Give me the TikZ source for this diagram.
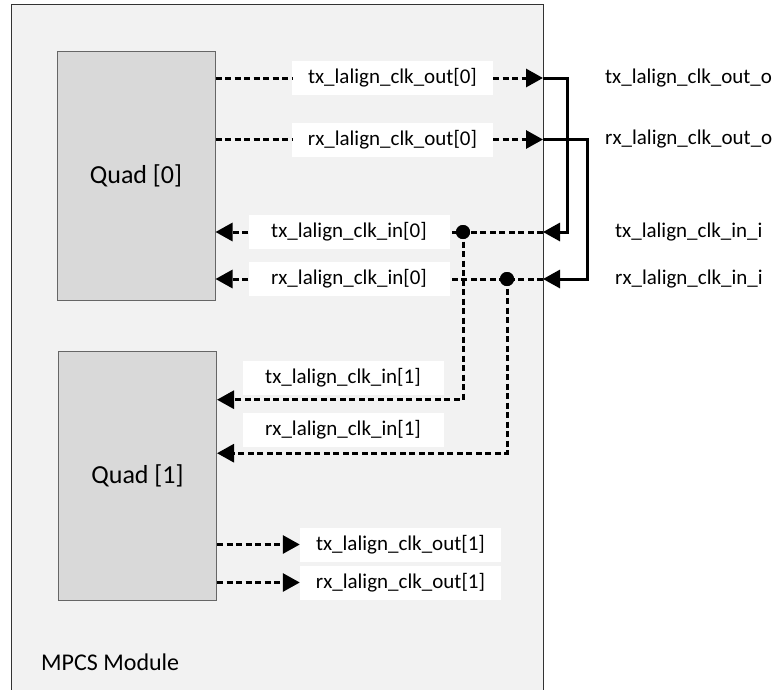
\documentclass[tikz,border=0pt]{standalone}
\usepackage{fontspec}
\setmainfont{Carlito}
\usetikzlibrary{arrows.meta,calc}

\tikzset{
  quadbox/.style = {draw = gray!80!black, fill = black!15, line width = 1pt,
                    minimum width = 158pt, minimum height = 249pt,
                    font = \fontsize{26}{30}\selectfont},
  sigbox/.style = {fill = white, inner sep = 0pt, minimum width = 201pt,
                   minimum height = 34pt, font = \fontsize{21}{24}\selectfont},
  extlabel/.style = {anchor = west, inner sep = 0pt, font = \fontsize{21}{24}\selectfont},
  sig/.style = {line width = 3pt, dash pattern = on 6pt off 3.5pt},
  wire/.style = {line width = 3pt},
  tip/.style = {-{Triangle[length = 17pt, width = 18pt]}},
  joint/.style = {circle, fill = black, inner sep = 0pt, minimum size = 14pt}
}

\begin{document}
\begin{tikzpicture}[x = 1pt, y = -1pt]
\useasboundingbox (0,0) rectangle (777,689);
\fill[white] (0,0) rectangle (777,689);
\draw[fill = black!5, draw = black!80, line width = 1pt] (11,4) rectangle (543,720);
\node[anchor = west, inner sep = 0pt, font = \fontsize{24}{28}\selectfont] (mpcs) at (41,662) {MPCS Module};

% quads
\node[quadbox] (quad0) at (136,176) {Quad [0]};
\node[quadbox] (quad1) at (137.5,476) {Quad [1]};

% signal boxes
\node[sigbox] (txout0) at (392.5,78) {tx\_lalign\_clk\_out[0]};
\node[sigbox] (rxout0) at (392.5,139.5) {rx\_lalign\_clk\_out[0]};
\node[sigbox] (txin0) at (349,232) {tx\_lalign\_clk\_in[0]};
\node[sigbox] (rxin0) at (349,279) {rx\_lalign\_clk\_in[0]};
\node[sigbox] (txin1) at (343,377.5) {tx\_lalign\_clk\_in[1]};
\node[sigbox] (rxin1) at (343,429.5) {rx\_lalign\_clk\_in[1]};
\node[sigbox] (txout1) at (400.5,544.5) {tx\_lalign\_clk\_out[1]};
\node[sigbox] (rxout1) at (400.5,582.5) {rx\_lalign\_clk\_out[1]};

% ports on the module edge
\coordinate (txo) at (543,78);
\coordinate (rxo) at (543,139.5);
\coordinate (txi) at (543,232);
\coordinate (rxi) at (543,279);
\coordinate (txloop) at (567,0);
\coordinate (rxloop) at (587,0);

\node[extlabel] (txoname) at (605,78) {tx\_lalign\_clk\_out\_o};
\node[extlabel] (rxoname) at (605,139.5) {rx\_lalign\_clk\_out\_o};
\node[extlabel] (txiname) at (615,232) {tx\_lalign\_clk\_in\_i};
\node[extlabel] (rxiname) at (615,279) {rx\_lalign\_clk\_in\_i};

\node[joint] (txdot) at (463,232) {};
\node[joint] (rxdot) at (507,279) {};

% quad 0 outputs
\draw[sig] (quad0.east |- txout0) -- (txout0);
\draw[sig, tip] (txout0) -- (txo);
\draw[sig] (quad0.east |- rxout0) -- (rxout0);
\draw[sig, tip] (rxout0) -- (rxo);

% loop back outside the module
\draw[wire, tip] (txo) -- (txloop |- txo) -- (txloop |- txi) -- (txi);
\draw[wire, tip] (rxo) -- (rxloop |- rxo) -- (rxloop |- rxi) -- (rxi);

% inputs
\draw[sig] (txi) -- (txdot.center) -- (txin0);
\draw[sig, tip] (txin0) -- (quad0.east |- txin0);
\draw[sig] (rxi) -- (rxdot.center) -- (rxin0);
\draw[sig, tip] (rxin0) -- (quad0.east |- rxin0);
\draw[sig, tip] (txdot.center) |- ([yshift = -5pt]quad1.east |- txin1.south);
\draw[sig, tip] (rxdot.center) |- ([yshift = -6.5pt]quad1.east |- rxin1.south);
\node[joint] at (txdot) {};
\node[joint] at (rxdot) {};

% quad 1 outputs
\draw[sig, tip] (quad1.east |- txout1) -- (txout1);
\draw[sig, tip] (quad1.east |- rxout1) -- (rxout1);

\end{tikzpicture}
\end{document}
